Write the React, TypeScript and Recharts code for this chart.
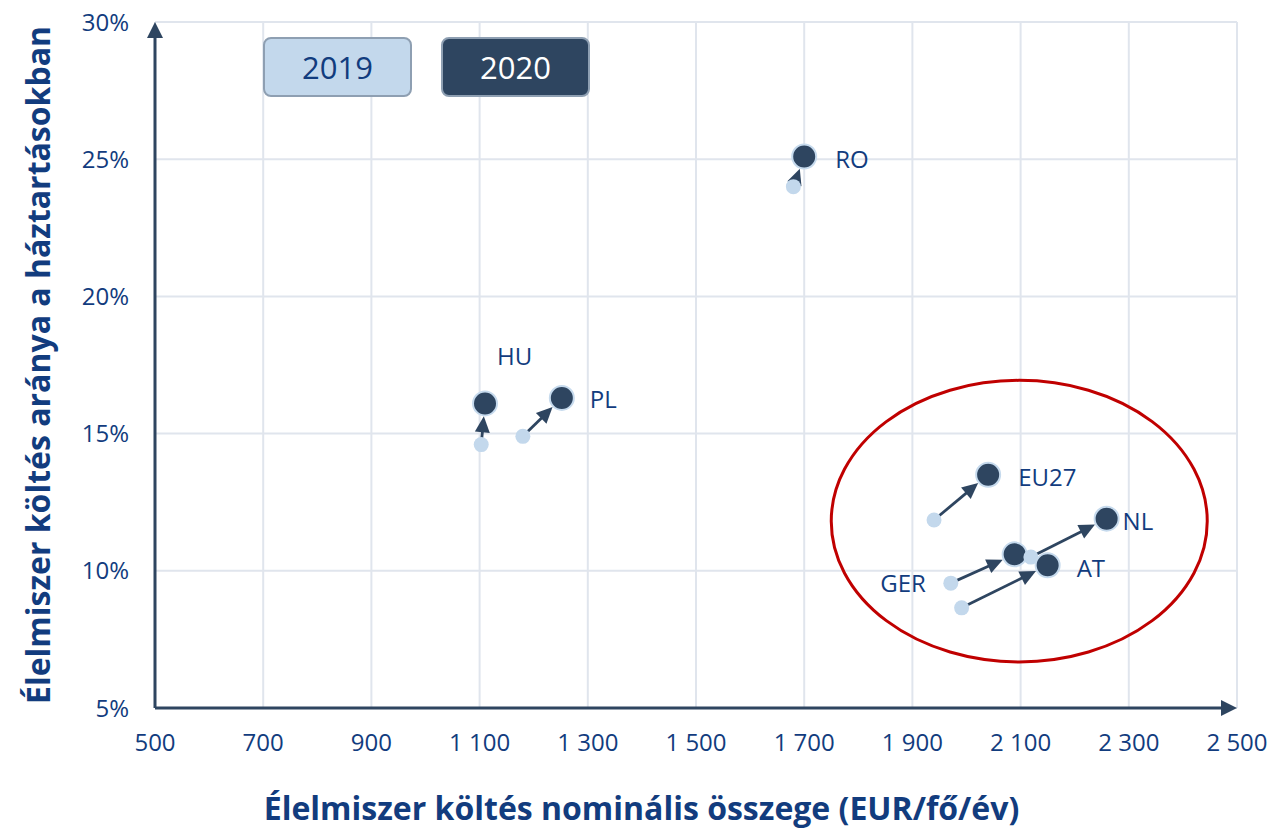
import React from 'react';
import {
  ScatterChart,
  Scatter,
  XAxis,
  YAxis,
  CartesianGrid,
  ReferenceLine,
  ReferenceArea,
} from 'recharts';

// ============================================
// Food spending: nominal amount vs share of household budget
// ============================================

const countries = ['RO', 'HU', 'PL', 'EU27', 'GER', 'NL', 'AT'];
const spend2019 = [1680, 1103, 1180, 1940, 1971, 2119, 1991];
const share2019 = [24.0, 14.6, 14.9, 11.85, 9.55, 10.5, 8.65];
const spend2020 = [1700, 1110, 1252, 2040, 2089, 2259, 2150];
const share2020 = [25.1, 16.1, 16.3, 13.5, 10.6, 11.9, 10.2];

const years = ['2019', '2020'];
const xTicks = [500, 700, 900, 1100, 1300, 1500, 1700, 1900, 2100, 2300, 2500];
const yTicks = [5, 10, 15, 20, 25, 30];

// highlighted group (ellipse bounds in data units)
const highlightX = [1750, 2445];
const highlightY = [6.68, 16.94];

const TEXT = '#123c7e';
const DARK = '#2e4560';
const LIGHT = '#c3d8ec';
const GRID = '#e0e5ed';
const FONT = '"Open Sans", "Noto Sans", sans-serif';

// label placement relative to the point it belongs to
const labelPos: Record<string, { dx: number; dy: number; anchor: 'start' | 'end'; on: string }> = {
  RO: { dx: 31, dy: 2, anchor: 'start', on: '2020' },
  HU: { dx: 12, dy: -48, anchor: 'start', on: '2020' },
  PL: { dx: 28, dy: 1, anchor: 'start', on: '2020' },
  EU27: { dx: 30, dy: 2, anchor: 'start', on: '2020' },
  NL: { dx: 16, dy: 2, anchor: 'start', on: '2020' },
  AT: { dx: 29, dy: 2, anchor: 'start', on: '2020' },
  GER: { dx: -25, dy: -1, anchor: 'end', on: '2019' },
};

// interleave per country so the drawing order matches the original
const points = countries.flatMap((c, i) => [
  { country: c, year: '2019', x: spend2019[i], y: share2019[i] },
  { country: c, year: '2020', x: spend2020[i], y: share2020[i] },
]);

const fmtX = (v: number) => (v >= 1000 ? `${Math.floor(v / 1000)} ${String(v % 1000).padStart(3, '0')}` : `${v}`);
const fmtY = (v: number) => `${v}%`;

function PointShape(props: any) {
  const { cx, cy, payload } = props;
  const pos = labelPos[payload.country];
  const label =
    pos && pos.on === payload.year ? (
      <text
        x={cx + pos.dx}
        y={cy + pos.dy}
        textAnchor={pos.anchor}
        dominantBaseline="central"
        fill={TEXT}
        fontSize={24}
        fontFamily={FONT}
      >
        {payload.country}
      </text>
    ) : null;
  if (payload.year === '2019') {
    return (
      <g>
        <circle cx={cx} cy={cy} r={7.5} fill={LIGHT} />
        {label}
      </g>
    );
  }
  return (
    <g>
      <circle cx={cx} cy={cy} r={12} fill={DARK} stroke="#c6daed" strokeWidth={2} />
      {label}
    </g>
  );
}

// line with arrowhead, end pulled back by `gap` pixels
function arrowShape(gap: number, headLen: number, headHalf: number, width: number) {
  return (props: any) => {
    const { x1, y1, x2, y2 } = props;
    const dx = x2 - x1;
    const dy = y2 - y1;
    const len = Math.sqrt(dx * dx + dy * dy) || 1;
    const ux = dx / len;
    const uy = dy / len;
    const tx = x2 - ux * gap;
    const ty = y2 - uy * gap;
    const bx = tx - ux * headLen;
    const by = ty - uy * headLen;
    const px = -uy * headHalf;
    const py = ux * headHalf;
    return (
      <g>
        <line x1={x1} y1={y1} x2={bx + ux * 2} y2={by + uy * 2} stroke={DARK} strokeWidth={width} />
        <polygon points={`${tx},${ty} ${bx + px},${by + py} ${bx - px},${by - py}`} fill={DARK} />
      </g>
    );
  };
}

function EllipseShape(props: any) {
  const { x, y, width, height } = props;
  return (
    <ellipse
      cx={x + width / 2}
      cy={y + height / 2}
      rx={width / 2}
      ry={height / 2}
      fill="none"
      stroke="#c00000"
      strokeWidth={3}
    />
  );
}

function YearLegend() {
  return (
    <div style={{ position: 'absolute', left: 263, top: 37, display: 'flex', gap: 29 }}>
      {years.map((yr, i) => (
        <div
          key={yr}
          style={{
            width: 145,
            height: 56,
            boxSizing: 'content-box',
            border: '2px solid #8e9fb2',
            borderRadius: 8,
            background: i === 0 ? LIGHT : DARK,
            color: i === 0 ? TEXT : '#ffffff',
            fontSize: 31,
            fontFamily: FONT,
            lineHeight: '56px',
            textAlign: 'center',
          }}
        >
          {yr}
        </div>
      ))}
    </div>
  );
}

const axisArrow = arrowShape(0, 16, 8, 3);
const pairArrow = arrowShape(13, 16, 7.5, 2.8);

export default function App() {
  return (
    <div style={{ position: 'absolute', left: 0, top: 0, width: 1271, height: 828, fontFamily: FONT, background: '#fff' }}>
      <ScatterChart width={1271} height={828} margin={{ top: 22, right: 34, bottom: 0, left: 0 }}>
        <CartesianGrid stroke={GRID} strokeWidth={2} />
        <XAxis
          type="number"
          dataKey="x"
          domain={[500, 2500]}
          ticks={xTicks}
          tickFormatter={fmtX}
          axisLine={false}
          tickLine={false}
          tickSize={0}
          tickMargin={26}
          height={120}
          tick={{ fill: TEXT, fontSize: 24, fontFamily: FONT }}
          interval={0}
        />
        <YAxis
          type="number"
          dataKey="y"
          domain={[5, 30]}
          ticks={yTicks}
          tickFormatter={fmtY}
          axisLine={false}
          tickLine={false}
          tickSize={0}
          tickMargin={26}
          width={155}
          tick={{ fill: TEXT, fontSize: 24, fontFamily: FONT }}
          interval={0}
        />
        <ReferenceArea
          x1={highlightX[0]}
          x2={highlightX[1]}
          y1={highlightY[0]}
          y2={highlightY[1]}
          shape={EllipseShape}
          ifOverflow="visible"
        />
        <Scatter name="2019 / 2020" data={points} shape={PointShape} isAnimationActive={false} />
        {countries.map((c, i) => (
          <ReferenceLine
            key={c}
            segment={[
              { x: spend2019[i], y: share2019[i] },
              { x: spend2020[i], y: share2020[i] },
            ]}
            shape={pairArrow}
            ifOverflow="visible"
          />
        ))}
        <ReferenceLine segment={[{ x: 500, y: 5 }, { x: 500, y: 30 }]} shape={axisArrow} ifOverflow="visible" />
        <ReferenceLine segment={[{ x: 500, y: 5 }, { x: 2500, y: 5 }]} shape={axisArrow} ifOverflow="visible" />
      </ScatterChart>
      <YearLegend />
      <div
        style={{
          position: 'absolute',
          left: -312,
          top: 345,
          width: 700,
          height: 40,
          lineHeight: '40px',
          transform: 'rotate(-90deg)',
          textAlign: 'center',
          fontSize: 32,
          fontWeight: 700,
          color: TEXT,
        }}
      >
        Élelmiszer költés aránya a háztartásokban
      </div>
      <div
        style={{
          position: 'absolute',
          left: 6,
          top: 788,
          width: 1271,
          lineHeight: '40px',
          textAlign: 'center',
          fontSize: 32,
          fontWeight: 700,
          color: TEXT,
        }}
      >
        Élelmiszer költés nominális összege (EUR/fő/év)
      </div>
    </div>
  );
}
